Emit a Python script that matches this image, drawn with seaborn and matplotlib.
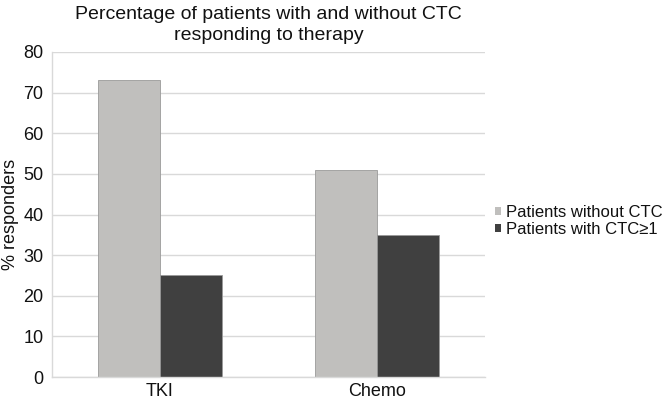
import matplotlib
matplotlib.use("Agg")
import matplotlib.pyplot as plt
import seaborn as sns
import pandas as pd

categories = ["TKI", "Chemo"]
series = ["Patients without CTC", "Patients with CTC\u22651"]
without_ctc = [73, 51]
with_ctc = [25, 35]
colors = ["#C0BFBD", "#404040"]

sns.set_style("white")
plt.rcParams["font.family"] = ["Liberation Sans", "DejaVu Sans"]
plt.rcParams["text.color"] = "#111111"
plt.rcParams["axes.labelcolor"] = "#111111"
plt.rcParams["xtick.color"] = "#111111"
plt.rcParams["ytick.color"] = "#111111"

df = pd.DataFrame({
    "category": categories * 2,
    "series": [series[0]] * 2 + [series[1]] * 2,
    "value": without_ctc + with_ctc,
})

fig = plt.figure(figsize=(6.62, 4.0), dpi=100)
ax = fig.add_axes([0.078, 0.0575, 0.655, 0.8125])
sns.barplot(data=df, x="category", y="value", hue="series", palette=colors,
            width=0.573, gap=0, ax=ax, saturation=1, legend=True,
            linewidth=0.6, edgecolor="#9A9A9A")

ax.set_ylim(0, 80)
ax.set_xlim(-0.5, 1.5)
ax.set_yticks(range(0, 81, 10))
ax.yaxis.grid(True, color="#D9D9D9", linewidth=1)
ax.set_axisbelow(True)
for s in ["top", "right"]:
    ax.spines[s].set_visible(False)
for s in ["left", "bottom"]:
    ax.spines[s].set_color("#D9D9D9")
    ax.spines[s].set_linewidth(1)
ax.tick_params(axis="y", which="major", length=4, color="#D9D9D9", labelcolor="#111111",
               labelsize=13, pad=2)
ax.tick_params(axis="x", which="major", length=0, labelcolor="#111111", labelsize=13, pad=4)
ax.set_xticks([-0.5, 0.5, 1.5], minor=True)
ax.tick_params(axis="x", which="minor", length=4, color="#D9D9D9")
ax.set_xlabel("")
ax.set_ylabel("% responders", fontsize=13, labelpad=3, color="#111111")
ax.set_title("Percentage of patients with and without CTC\nresponding to therapy",
             fontsize=14, pad=9, linespacing=1.3, color="#111111")

handles, labels = ax.get_legend_handles_labels()
leg = ax.legend(handles, labels, loc="center left", bbox_to_anchor=(0.747, 0.4475),
                bbox_transform=fig.transFigure, frameon=False, fontsize=12,
                handlelength=0.38, handleheight=0.38, handletextpad=0.3,
                labelspacing=0.1, borderaxespad=0, borderpad=0)
for h in leg.legend_handles:
    h.set_linewidth(0)
for t in leg.get_texts():
    t.set_color("#111111")

fig.savefig("out.png", dpi=100)
